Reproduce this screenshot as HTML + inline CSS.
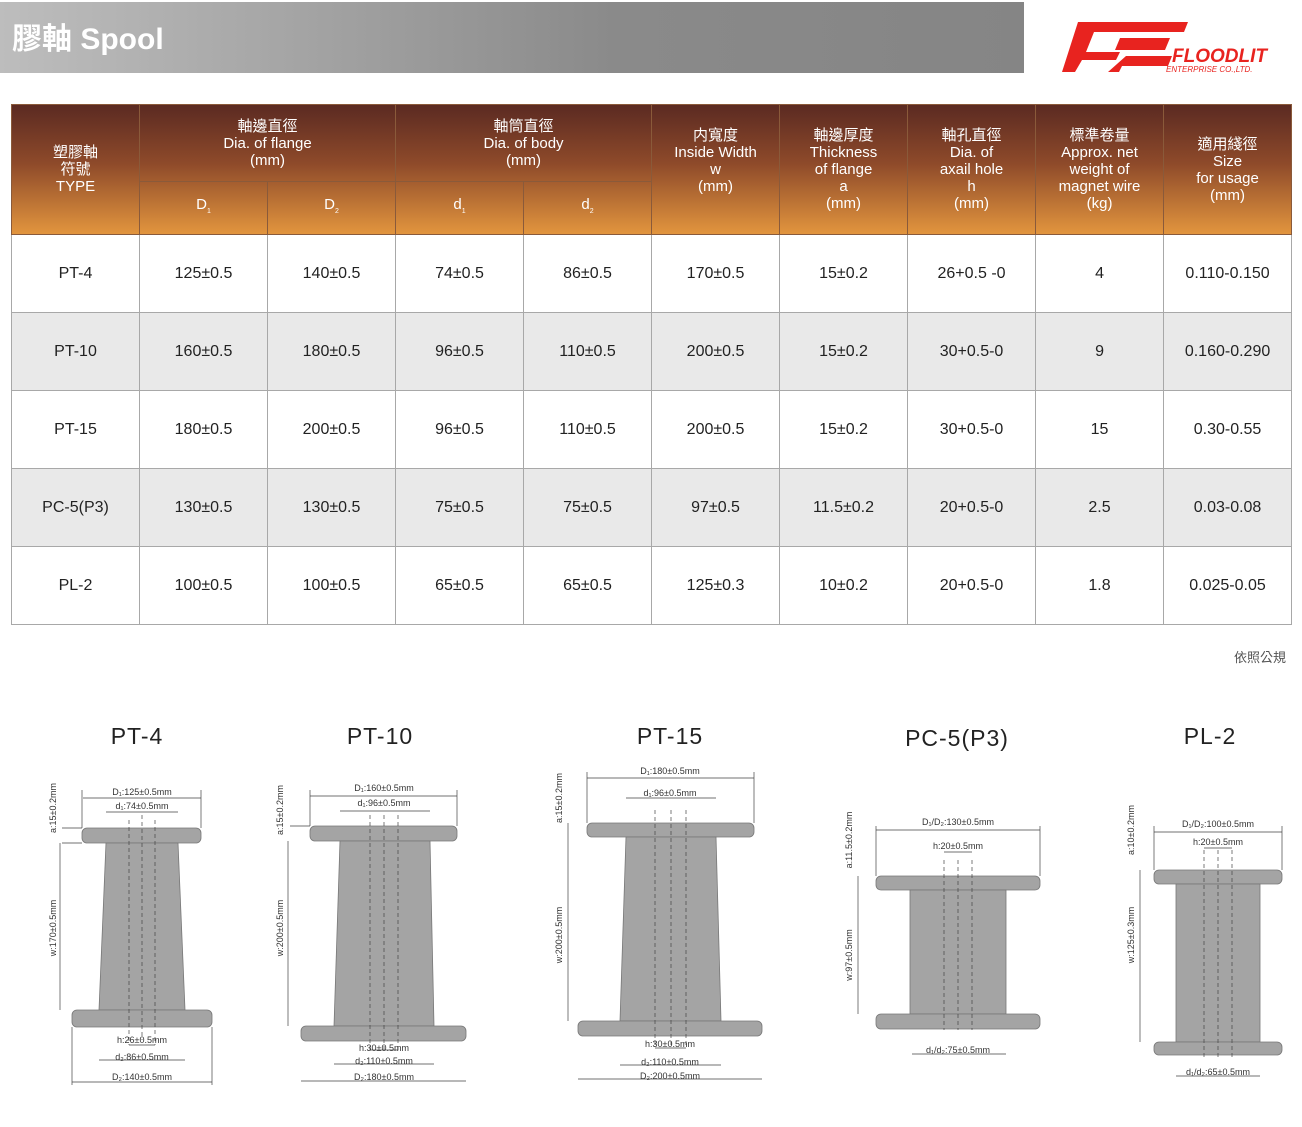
<!DOCTYPE html>
<html><head><meta charset="utf-8"><style>
body{margin:0;width:1302px;height:1127px;background:#fff;position:relative;overflow:hidden;font-family:"Liberation Sans","Noto Sans CJK TC",sans-serif}
.bar{position:absolute;left:0;top:2px;width:1024px;height:71px;background:linear-gradient(90deg,#bdbdbd,#8a8a8a 60%,#858585)}
.bar span{position:absolute;left:12px;top:12px;color:#fff;font-weight:bold;font-size:30px;font-family:"Liberation Sans","Noto Sans CJK TC",sans-serif}
table{position:absolute;left:11px;top:104px;border-collapse:collapse;table-layout:fixed;width:1281px}
td,th{border:1px solid #a8a8a8;text-align:center;padding:0;font-size:16px;color:#222}
th{color:#fff;font-weight:normal;font-size:15px;line-height:17px;border-color:#8a5a3a}
thead{background:linear-gradient(180deg,#5b2a22 0%,#8e4a2a 45%,#e3963e 100%)}
tbody tr{height:78px}
tbody tr:nth-child(2n){background:#e9e9e9}
.note{position:absolute;left:1234px;top:647px;font-size:13px;color:#555}
svg{position:absolute;left:0;top:0}
</style></head><body>
<div class="bar"><span>膠軸 Spool</span></div>
<svg width="1302" height="1127" style="z-index:2">
<g fill="#e8231f">
<polygon points="1078,22 1188,22 1184,32 1094,32 1086,52 1120,52 1116,60 1082,60 1075,72 1062,72"/>
<polygon points="1120,38 1170,38 1165,50 1115,50"/>
<polygon points="1126,56 1172,56 1168,66 1122,66 1119,72 1108,72"/>
</g>
<text x="1172" y="62" fill="#e8231f" font-size="19" font-weight="bold" font-style="italic" font-family="Liberation Sans">FLOODLIT</text>
<text x="1166" y="72" fill="#e8231f" font-size="8" font-style="italic" font-family="Liberation Sans">ENTERPRISE CO.,LTD.</text>
</svg>
<table>
<colgroup><col span="10" style="width:128px"></colgroup>
<thead>
<tr style="height:77px"><th rowspan="2">塑膠軸<br>符號<br>TYPE</th><th colspan="2">軸邊直徑<br>Dia. of flange<br>(mm)</th><th colspan="2">軸筒直徑<br>Dia. of body<br>(mm)</th><th rowspan="2">内寬度<br>Inside Width<br>w<br>(mm)<br><br></th><th rowspan="2">軸邊厚度<br>Thickness<br>of flange<br>a<br>(mm)</th><th rowspan="2">軸孔直徑<br>Dia. of<br>axail hole<br>h<br>(mm)</th><th rowspan="2">標準卷量<br>Approx. net<br>weight of<br>magnet wire<br>(kg)</th><th rowspan="2">適用綫徑<br>Size<br>for usage<br>(mm)<br></th></tr>
<tr style="height:53px"><th>D<sub style="font-size:7px">1</sub></th><th>D<sub style="font-size:7px">2</sub></th><th>d<sub style="font-size:7px">1</sub></th><th>d<sub style="font-size:7px">2</sub></th></tr>
</thead>
<tbody>
<tr><td>PT-4</td><td>125±0.5</td><td>140±0.5</td><td>74±0.5</td><td>86±0.5</td><td>170±0.5</td><td>15±0.2</td><td>26+0.5 -0</td><td>4</td><td>0.110-0.150</td></tr>
<tr><td>PT-10</td><td>160±0.5</td><td>180±0.5</td><td>96±0.5</td><td>110±0.5</td><td>200±0.5</td><td>15±0.2</td><td>30+0.5-0</td><td>9</td><td>0.160-0.290</td></tr>
<tr><td>PT-15</td><td>180±0.5</td><td>200±0.5</td><td>96±0.5</td><td>110±0.5</td><td>200±0.5</td><td>15±0.2</td><td>30+0.5-0</td><td>15</td><td>0.30-0.55</td></tr>
<tr><td>PC-5(P3)</td><td>130±0.5</td><td>130±0.5</td><td>75±0.5</td><td>75±0.5</td><td>97±0.5</td><td>11.5±0.2</td><td>20+0.5-0</td><td>2.5</td><td>0.03-0.08</td></tr>
<tr><td>PL-2</td><td>100±0.5</td><td>100±0.5</td><td>65±0.5</td><td>65±0.5</td><td>125±0.3</td><td>10±0.2</td><td>20+0.5-0</td><td>1.8</td><td>0.025-0.05</td></tr>
</tbody></table>
<div class="note">依照公規</div>
<svg width="1302" height="1127" font-family="Liberation Sans" >
<g font-size="23" fill="#222" text-anchor="middle" letter-spacing="1">
<text x="137" y="744">PT-4</text><text x="380" y="744">PT-10</text><text x="670" y="744">PT-15</text><text x="957" y="746">PC-5(P3)</text><text x="1210" y="744">PL-2</text>
</g>
<g fill="#a4a4a4" stroke="#777" stroke-width="0.8">
<rect x="82" y="828" width="119" height="15" rx="5"/><polygon points="106,843 178,843 185,1010 99,1010"/><rect x="72" y="1010" width="140" height="17" rx="5"/>
<rect x="310" y="826" width="147" height="15" rx="5"/><polygon points="340,841 430,841 434,1026 334,1026"/><rect x="301" y="1026" width="165" height="15" rx="5"/>
<rect x="587" y="823" width="167" height="14" rx="5"/><polygon points="626,837 716,837 721,1021 620,1021"/><rect x="578" y="1021" width="184" height="15" rx="5"/>
<rect x="876" y="876" width="164" height="14" rx="5"/><rect x="910" y="890" width="96" height="124"/><rect x="876" y="1014" width="164" height="15" rx="5"/>
<rect x="1154" y="870" width="128" height="14" rx="5"/><rect x="1176" y="884" width="84" height="158"/><rect x="1154" y="1042" width="128" height="13" rx="5"/>
</g>
<g stroke="#444" stroke-width="0.7" fill="none">
<path d="M83,798H201M106,812H178M62,828H82M62,843H82M60,843V1010M72,1082H212M99,1060H185M129,1045H155M82,790V828M201,790V828M72,1027V1085M212,1027V1085"/>
<path d="M310,796H457M340,811H430M290,826H310M288,841V1026M301,1081H466M334,1064H434M370,1050H398M310,790V826M457,790V826"/>
<path d="M587,778H754M626,798H716M568,823V1021M578,1079H762M620,1065H721M655,1048H686M587,772V823M754,772V823"/>
<path d="M876,830H1040M944,852H972M858,876V1014M912,1054H1006M876,826V876M1040,826V876"/>
<path d="M1154,832H1282M1204,848H1232M1140,870V1042M1176,1076H1260M1154,826V870M1282,826V870"/>
</g>
<g stroke="#444" stroke-width="0.7" stroke-dasharray="4,3">
<path d="M129,820V1045M142,815V1040M155,820V1045M370,815V1050M384,815V1050M398,815V1050M655,810V1048M671,810V1048M686,810V1048M944,860V1030M958,860V1030M972,860V1030M1204,850V1060M1218,850V1060M1232,850V1060"/>
</g>
<g font-size="9" fill="#333" text-anchor="middle">
<text x="142" y="795">D₁:125±0.5mm</text><text x="142" y="809">d₁:74±0.5mm</text><text x="142" y="1043">h:26±0.5mm</text><text x="142" y="1060">d₂:86±0.5mm</text><text x="142" y="1080">D₂:140±0.5mm</text>
<text x="384" y="791">D₁:160±0.5mm</text><text x="384" y="806">d₁:96±0.5mm</text><text x="384" y="1051">h:30±0.5mm</text><text x="384" y="1064">d₂:110±0.5mm</text><text x="384" y="1080">D₂:180±0.5mm</text>
<text x="670" y="774">D₁:180±0.5mm</text><text x="670" y="796">d₁:96±0.5mm</text><text x="670" y="1047">h:30±0.5mm</text><text x="670" y="1065">d₂:110±0.5mm</text><text x="670" y="1079">D₂:200±0.5mm</text>
<text x="958" y="825">D₁/D₂:130±0.5mm</text><text x="958" y="849">h:20±0.5mm</text><text x="958" y="1053">d₁/d₂:75±0.5mm</text>
<text x="1218" y="827">D₁/D₂:100±0.5mm</text><text x="1218" y="845">h:20±0.5mm</text><text x="1218" y="1075">d₁/d₂:65±0.5mm</text>
</g>
<g font-size="9" fill="#333" text-anchor="middle">
<text transform="translate(56,808) rotate(-90)">a:15±0.2mm</text><text transform="translate(56,928) rotate(-90)">w:170±0.5mm</text>
<text transform="translate(283,810) rotate(-90)">a:15±0.2mm</text><text transform="translate(283,928) rotate(-90)">w:200±0.5mm</text>
<text transform="translate(562,798) rotate(-90)">a:15±0.2mm</text><text transform="translate(562,935) rotate(-90)">w:200±0.5mm</text>
<text transform="translate(852,840) rotate(-90)">a:11.5±0.2mm</text><text transform="translate(852,955) rotate(-90)">w:97±0.5mm</text>
<text transform="translate(1134,830) rotate(-90)">a:10±0.2mm</text><text transform="translate(1134,935) rotate(-90)">w:125±0.3mm</text>
</g>
</svg>
</body></html>
